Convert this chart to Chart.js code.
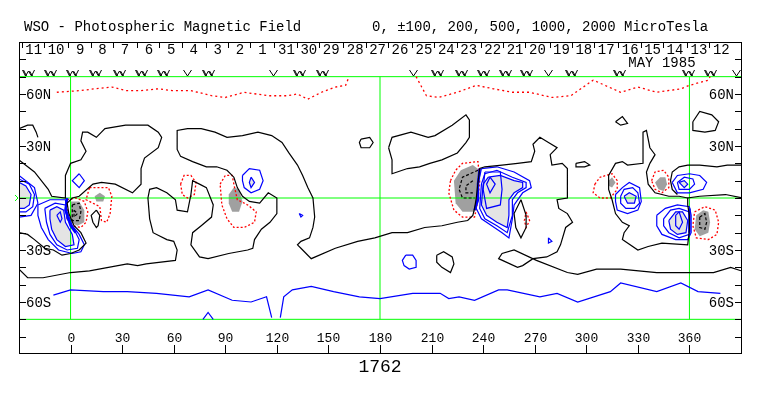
<!DOCTYPE html>
<html>
<head>
<meta charset="utf-8">
<title>WSO Photospheric Magnetic Field - CR 1762</title>
<script src="https://cdn.jsdelivr.net/npm/chart.js"></script>
<style>
  html, body { margin: 0; padding: 0; background: #fff; }
  #wrap { width: 763px; height: 396px; }
</style>
</head>
<body>
<div id="wrap"><canvas id="synoptic" width="763" height="396"></canvas></div>
<script>
// Carrington rotation 1762 (May 1985). All contour points are [longitude, latitude].
const rotation = "1762";
const title = "WSO - Photospheric Magnetic Field";
const levelsText = "0, \u00b1100, 200, 500, 1000, 2000 MicroTesla";
const monthText = "MAY 1985";
const monthLon = 344;

const dayLabels = ["11","10","9","8","7","6","5","4","3","2","1","31","30","29","28","27",
  "26","25","24","23","22","21","20","19","18","17","16","15","14","13","12"];
const dayLon = [-22,-9,5,18,31,45,58,71,85,98,111,125,138,151,165,178,191,205,218,231,
  245,258,271,285,298,311,325,338,351,365,378];

const obsLon = [-25,-12,1,14,28,41,54,68,80,118,133,146,199,213,227,240,253,265,278,291,319,359,372,387];
const obsMark = ["W","W","W","W","W","W","W","V","W","V","W","W","V","W","W","W","W","W","V","W","W","W","W","V"];

const lonTicks = [0,30,60,90,120,150,180,210,240,270,300,330,360];
const latTicks = [80,70,60,50,40,30,20,10,0,-10,-20,-30,-40,-50,-60,-70,-80];
const latLabelVals = [60,30,-30,-60];
const latLabelText = ["60N","30N","30S","60S"];
const gridLon = [0,180,360];
const gridLat = [70,0,-70];

// zero (neutral) lines
const neutralNW = [[-30,40],[-25,42],[-22,42],[-20,38],[-19,35]];
const neutralWest = [[-30,22],[-21,15],[-13,5],[-11,1],[-3,0],[-3,13],[0,20],[6,22],[9,27],[6,33],[7,38],
  [10,38],[15,35],[20,40],[32,42],[45,42],[51,38],[53,35],[51,29],[43,23],[41,17],[41,8],[36,3],[26,8],
  [18,9],[13,8],[5,1],[1,0],[-2,-3],[-1,-9],[2,-16],[6,-20],[9,-26],[5,-30],[0,-32],[-5,-33],[-10,-30],
  [-15,-29],[-21,-24],[-25,-21],[-30,-20]];
const neutralSouth = [[-30,-41],[-25,-46],[-16,-46],[0,-43],[11,-42],[33,-38],[39,-39],[44,-38],[61,-36],
  [62,-30],[60,-25],[56,-24],[48,-20],[46,-12],[45,0],[46,5],[50,6],[56,3],[61,-1],[62,-7],[68,-8],[70,2],
  [71,10],[75,8],[79,6],[83,-4],[82,-11],[76,-16],[71,-20],[70,-27],[75,-34],[80,-35],[92,-32],[103,-30],
  [106,-29],[107,-24],[111,-18],[116,-14],[120,-9],[120,0],[115,3],[110,-3],[104,-2],[100,1],[97,6],[95,12],
  [91,16],[85,18],[79,18],[71,21],[64,24],[62,28],[62,36],[62,39],[68,40],[76,40],[84,38],[91,35],[100,36],
  [109,38],[117,36],[123,32],[127,26],[132,19],[135,13],[138,6],[141,0],[142,-11],[141,-17],[139,-23],
  [134,-25],[132,-27],[134,-29],[140,-35],[154,-29],[167,-25],[177,-23],[187,-20],[196,-20],[206,-17],
  [216,-16],[225,-14],[231,-13],[234,-10],[235,-6],[236,0],[237,9],[238,17],[241,18],[251,19],[260,20],
  [268,21],[270,27],[269,31],[273,35],[278,32],[283,29],[279,25],[280,19],[286,20],[289,17],[289,0],
  [283,-1],[284,-6],[289,-9],[292,-14],[288,-17],[285,-27],[283,-31],[277,-34],[269,-35],[263,-39],
  [260,-40],[249,-35],[251,-32],[258,-30],[271,-36],[289,-43],[295,-44],[306,-41],[320,-41],[341,-43],
  [355,-43],[364,-43],[374,-43],[384,-40],[390,-42]];
const neutralEast = [[337,20],[340,25],[337,29],[335,39],[333,38],[333,20],[324,19],[321,21],[317,20],
  [313,13],[313,5],[315,-1],[317,-9],[321,-14],[325,-16],[322,-20],[321,-24],[330,-30],[336,-28],[344,-26],
  [359,-27],[360,-18],[360,-10],[359,-4],[359,0],[366,1],[381,2],[391,0]];
const neutralEast2 = [[337,20],[335,15],[336,8],[340,3],[348,1],[354,1],[359,0]];
const neutralEast3 = [[390,19],[382,19],[376,18],[366,19],[359,19],[354,18],[350,15],[349,10],[350,5],[353,2]];
const neutralLoopN = [[185,29],[187,35],[198,38],[208,35],[212,36],[222,42],[230,48],[232,45],[232,35],
  [230,32],[225,26],[216,22],[209,20],[203,18],[196,17],[187,14],[187,22]];
const neutralLoops = [
  [[15,-7],[17,-10],[16,-16],[15,-17],[13,-14],[12,-10]],
  [[169,34],[174,35],[176,32],[174,29],[169,29],[168,32]],
  [[213,-33],[217,-31],[222,-34],[223,-38],[221,-43],[216,-40],[213,-37]],
  [[317,44],[321,47],[324,43],[320,42]],
  [[362,44],[366,50],[373,48],[377,44],[375,39],[369,38],[362,39]],
  [[294,20],[299,21],[302,19],[299,18],[294,18]],
  [[262,-1],[265,-10],[265,-17],[262,-23],[259,-17],[258,-9]]
];

// positive contours (blue), open lines touching the edges
const posEdgeWest = [
  [[-30,13],[-21,6],[-19,-3],[-23,-10],[-30,-11]],
  [[-30,11],[-24,8],[-21,2],[-22,-5],[-26,-8],[-30,-8]],
  [[-30,9],[-26,7],[-23,2],[-24,-4],[-27,-6],[-30,-6]]
];
const posSouthA = [[-10,-56],[0,-53],[19,-54],[33,-54],[50,-55],[69,-57],[80,-53],[94,-59],[105,-60],[114,-57],[117,-69]];
const posSouthB = [[122,-69],[124,-57],[129,-53],[140,-51],[153,-54],[168,-57],[180,-58],[199,-55],[215,-55],
  [220,-58],[226,-57],[235,-59],[249,-53],[254,-53],[273,-57],[283,-55],[295,-60],[314,-54],[320,-49],
  [341,-54],[355,-49],[365,-54],[378,-55]];
const posPolarBump = [[77,-70],[80,-66],[83,-70]];
// positive closed contours
const posWest = [
  [[-19,-4],[-12,-1],[-3,-1],[-2,-8],[1,-16],[5,-21],[8,-27],[6,-31],[1,-32],[-7,-30],[-13,-24],[-17,-17],[-19,-10]],
  [[-15,-6],[-9,-3],[-3,-4],[-2,-12],[2,-18],[5,-24],[4,-29],[-2,-30],[-8,-27],[-12,-21],[-14,-14]],
  [[-12,-7],[-8,-5],[-4,-7],[-3,-14],[1,-21],[2,-27],[-3,-28],[-8,-24],[-11,-18],[-12,-12]],
  [[-8,-10],[-6,-8],[-5,-12],[-6,-14]]
];
const posDiamond = [[5,14],[8,10],[5,6],[1,10]];
const posMid = [
  [[100,13],[104,17],[110,16],[112,10],[110,5],[105,3],[101,6],[100,10]],
  [[105,12],[107,9],[105,6],[104,9]]
];
const posDot = [[133,-9],[135,-10],[134,-11]];
const posCenter = [
  [[239,17],[248,18],[258,15],[267,10],[268,6],[263,3],[258,-4],[257,-12],[255,-23],[251,-20],[245,-16],[239,-12],[236,-6],[237,8]],
  [[241,14],[248,16],[257,12],[265,9],[265,6],[260,3],[257,-1],[257,-10],[254,-20],[248,-16],[241,-12],[238,-6],[239,8]],
  [[243,12],[250,13],[258,10],[263,9],[263,6],[258,3],[255,-1],[255,-10],[254,-17],[248,-14],[242,-10],[239,-4],[240,8]],
  [[241,15],[250,15],[251,5],[250,-4],[242,-6],[240,5]],
  [[244,12],[247,8],[244,3],[242,8]]
];
const posRingS = [[195,-33],[199,-33],[201,-36],[201,-40],[197,-41],[194,-39],[193,-36]];
const posTiny = [[278,-23],[280,-25],[278,-26]];
const posE1 = [
  [[317,2],[321,6],[325,9],[331,6],[332,-2],[330,-7],[324,-9],[318,-7],[317,-2]],
  [[320,1],[322,5],[327,6],[330,3],[331,-3],[328,-6],[323,-6],[320,-3]],
  [[322,1],[325,3],[329,1],[328,-3],[324,-3]]
];
const posE2 = [
  [[350,9],[353,13],[360,14],[366,13],[370,9],[368,5],[360,3],[353,3]],
  [[353,9],[357,12],[362,11],[363,8],[360,5],[354,5]],
  [[354,9],[357,10],[359,8],[357,6]]
];
const posE3 = [
  [[341,-10],[346,-6],[353,-4],[360,-5],[361,-10],[361,-20],[359,-24],[352,-24],[344,-21],[341,-16]],
  [[345,-12],[349,-7],[354,-6],[360,-8],[360,-21],[354,-23],[348,-20],[345,-16]],
  [[348,-13],[352,-8],[356,-8],[359,-13],[358,-20],[353,-21],[349,-18]],
  [[352,-10],[354,-8],[356,-14],[354,-18],[352,-16]]
];
const strongNeutral = [
  [[-2,0],[-3,-7],[0,-16],[3,-20]],
  [[238,17],[237,8],[237,-1],[235,-7]],
  [[360,-6],[360,-20]]
];

// negative contours (red), open polar lines
const negNorthA = [[-8,61],[6,62],[14,63],[24,64],[32,62],[41,62],[51,63],[59,62],[70,62],[82,59],[90,58],
  [101,61],[115,59],[126,59],[132,60],[138,57],[146,61],[154,64],[160,65],[162,70]];
const negNorthB = [[201,70],[207,59],[214,58],[225,61],[236,65],[246,63],[257,61],[267,61],[280,58],[291,59],
  [304,68],[320,61],[330,64],[341,61],[355,63],[360,65],[371,68],[372,70]];
const negRings = [
  [[-2,-1],[3,0],[8,-2],[10,-8],[9,-14],[6,-17],[1,-16],[-2,-12]],
  [[11,6],[16,6],[22,6],[24,1],[23,-9],[21,-14],[18,-13],[17,-5],[13,-3],[9,-1]],
  [[64,8],[66,13],[70,13],[73,9],[72,2],[68,0],[65,2]],
  [[87,8],[90,13],[94,13],[95,8],[97,-1],[103,-4],[108,-8],[107,-14],[101,-17],[95,-17],[91,-12],[88,-4]],
  [[221,10],[224,16],[228,20],[237,21],[238,10],[237,-1],[235,-11],[228,-11],[223,-7],[220,3]],
  [[265,-8],[267,-13],[265,-17],[264,-13]],
  [[305,8],[308,12],[315,14],[318,10],[318,5],[314,0],[308,0],[304,3]],
  [[338,10],[340,15],[345,16],[348,12],[348,6],[344,3],[340,5]],
  [[363,-8],[369,-5],[375,-7],[377,-14],[376,-21],[371,-24],[364,-23],[362,-16]]
];
// strong negative areas (dark grey)
const negCores = [
  [[0,-2],[5,-2],[8,-7],[8,-14],[4,-16],[0,-14]],
  [[14,1],[17,3],[20,1],[19,-2],[15,-2]],
  [[92,2],[95,6],[98,5],[100,-2],[98,-8],[94,-8],[92,-3]],
  [[223,10],[227,16],[234,19],[238,16],[237,-1],[235,-8],[228,-8],[224,-3]],
  [[313,10],[315,12],[317,9],[315,6],[313,7]],
  [[340,9],[343,12],[346,12],[347,8],[345,4],[342,5]],
  [[364,-10],[368,-7],[371,-8],[372,-14],[371,-20],[366,-22],[363,-18]]
];
const negInnerClosed = [
  [[1,-4],[5,-3],[6,-8],[5,-13],[1,-13]],
  [[2,-7],[4,-9],[2,-11]],
  [[366,-11],[369,-9],[370,-14],[369,-18],[366,-17]]
];
const negInnerOpen = [
  [[237,16],[228,12],[226,5],[228,0],[235,0]],
  [[234,10],[230,7],[230,3],[234,3]]
];

const xy = pts => pts.map(p => ({ x: p[0], y: p[1] }));
const ring = pts => xy(pts.concat([pts[0]]));

const datasets = [];

function addLine(data, color, width, dash) {
  datasets.push({
    data: data, borderColor: color, borderWidth: width, borderDash: dash,
    fill: false, pointRadius: 0, order: 1
  });
}
function addFill(pts, color) {
  datasets.push({
    data: ring(pts), borderColor: "rgba(0,0,0,0)", borderWidth: 0,
    backgroundColor: color, fill: "shape", pointRadius: 0, order: 4
  });
}

// fills
addFill(posEdgeWest[2], "#e4e4e4");
addFill(posWest[2], "#e4e4e4");
addFill(posMid[1], "#e4e4e4");
addFill(posCenter[2], "#e4e4e4");
addFill(posE1[2], "#e4e4e4");
addFill(posE2[2], "#e4e4e4");
addFill(posE3[2], "#e4e4e4");
negCores.forEach(p => addFill(p, "#a0a0a0"));

// green reference lines
gridLon.forEach(lon => datasets.push({
  data: xy([[lon, -70], [lon, 70]]), borderColor: "#00ff00", borderWidth: 1, pointRadius: 0, fill: false, order: 3
}));
gridLat.forEach(lat => datasets.push({
  data: xy([[-30, lat], [390, lat]]), borderColor: "#00ff00", borderWidth: 1, pointRadius: 0, fill: false, order: 3
}));

// neutral lines
[neutralNW, neutralWest, neutralSouth, neutralEast, neutralEast2, neutralEast3].forEach(p => addLine(xy(p), "#000", 1.2, []));
addLine(ring(neutralLoopN), "#000", 1.2, []);
neutralLoops.forEach(p => addLine(ring(p), "#000", 1.2, []));

// positive
posEdgeWest.forEach(p => addLine(xy(p), "#0000ff", 1.2, []));
[posSouthA, posSouthB, posPolarBump].forEach(p => addLine(xy(p), "#0000ff", 1.2, []));
[...posWest, ...posMid, ...posCenter, ...posE1, ...posE2, ...posE3].forEach(p => addLine(ring(p), "#0000ff", 1.2, []));
[posDiamond, posDot, posRingS, posTiny].forEach(p => addLine(ring(p), "#0000ff", 1.2, []));
strongNeutral.forEach(p => addLine(xy(p), "#0000ff", 2.5, []));

// negative
[negNorthA, negNorthB].forEach(p => addLine(xy(p), "#ff0000", 1.3, [2, 3]));
negRings.forEach(p => addLine(ring(p), "#ff0000", 1.3, [2, 2]));
negInnerClosed.forEach(p => addLine(ring(p), "#000", 1.2, [3, 2]));
negInnerOpen.forEach(p => addLine(xy(p), "#000", 1.2, [3, 2]));

const FONT = '"Liberation Mono", "DejaVu Sans Mono", monospace';

const decor = {
  id: "decor",
  afterDraw(chart) {
    const { ctx, chartArea: a, scales: { x, y } } = chart;
    ctx.save();
    ctx.strokeStyle = "#000";
    ctx.fillStyle = "#000";
    ctx.lineWidth = 1;
    ctx.strokeRect(a.left + 0.5, a.top + 0.5, a.right - a.left, a.bottom - a.top - 1);

    // title
    ctx.font = "14px " + FONT;
    ctx.textBaseline = "alphabetic";
    ctx.textAlign = "left";
    ctx.fillText(title, 24, 31);
    ctx.fillText(levelsText, 372, 31);

    // days of the month along the top
    ctx.textAlign = "center";
    dayLabels.forEach((d, i) => {
      const px = x.getPixelForValue(dayLon[i]);
      ctx.fillText(d, px + 1, 54);
      const tx = Math.round(px - 11) + 0.5;
      ctx.beginPath(); ctx.moveTo(tx, a.top); ctx.lineTo(tx, a.top + 6); ctx.stroke();
    });
    ctx.fillText(monthText, x.getPixelForValue(monthLon), 67);

    // observation marks
    obsLon.forEach((lon, i) => {
      const px = Math.round(x.getPixelForValue(lon)) + 0.5;
      ctx.beginPath();
      if (obsMark[i] === "V") {
        ctx.moveTo(px - 4, 70); ctx.lineTo(px, 76); ctx.lineTo(px + 4, 70);
      } else {
        ctx.moveTo(px - 6, 70); ctx.lineTo(px - 3, 76); ctx.lineTo(px, 71); ctx.lineTo(px + 3, 76); ctx.lineTo(px + 6, 70);
        ctx.moveTo(px - 5, 70); ctx.lineTo(px - 2, 76); ctx.moveTo(px + 1, 71); ctx.lineTo(px + 4, 76);
      }
      ctx.stroke();
    });

    // latitude ticks, both sides
    latTicks.forEach(lat => {
      const py = Math.round(y.getPixelForValue(lat)) + 0.5;
      ctx.beginPath();
      ctx.moveTo(a.left, py); ctx.lineTo(a.left + 7, py);
      ctx.moveTo(a.right - 6, py); ctx.lineTo(a.right, py);
      ctx.stroke();
    });
    ctx.font = "14px " + FONT;
    ctx.textBaseline = "middle";
    latLabelVals.forEach((lat, i) => {
      const py = y.getPixelForValue(lat) + 1;
      ctx.textAlign = "left";
      ctx.fillText(latLabelText[i], a.left + 7, py);
      ctx.textAlign = "right";
      ctx.fillText(latLabelText[i], a.right - 7, py);
    });

    // equator marker on the left edge
    const ey = y.getPixelForValue(0);
    ctx.strokeStyle = "#00ff00";
    ctx.beginPath(); ctx.moveTo(a.left - 4, ey - 3); ctx.lineTo(a.left - 1, ey); ctx.lineTo(a.left - 4, ey + 3); ctx.stroke();
    ctx.strokeStyle = "#000";

    // longitude ticks and labels
    ctx.font = "13px " + FONT;
    ctx.textAlign = "center";
    ctx.textBaseline = "alphabetic";
    lonTicks.forEach(lon => {
      const px = Math.round(x.getPixelForValue(lon)) + 0.5;
      ctx.beginPath(); ctx.moveTo(px, a.bottom - 9); ctx.lineTo(px, a.bottom); ctx.stroke();
      ctx.fillText(String(lon), px, a.bottom - 12);
    });

    // rotation number
    ctx.font = "18px " + FONT;
    ctx.fillText(rotation, x.getPixelForValue(180), 372);
    ctx.restore();
  }
};

new Chart(document.getElementById("synoptic"), {
  type: "line",
  data: { datasets: datasets },
  options: {
    responsive: false,
    animation: false,
    events: [],
    layout: { padding: { left: 19, top: 42, right: 22, bottom: 42 } },
    elements: { line: { tension: 0 }, point: { radius: 0 } },
    scales: {
      x: { type: "linear", min: -30, max: 390, display: false },
      y: { type: "linear", min: -90, max: 90, display: false }
    },
    plugins: { legend: { display: false }, tooltip: { enabled: false } }
  },
  plugins: [decor]
});
</script>
</body>
</html>
